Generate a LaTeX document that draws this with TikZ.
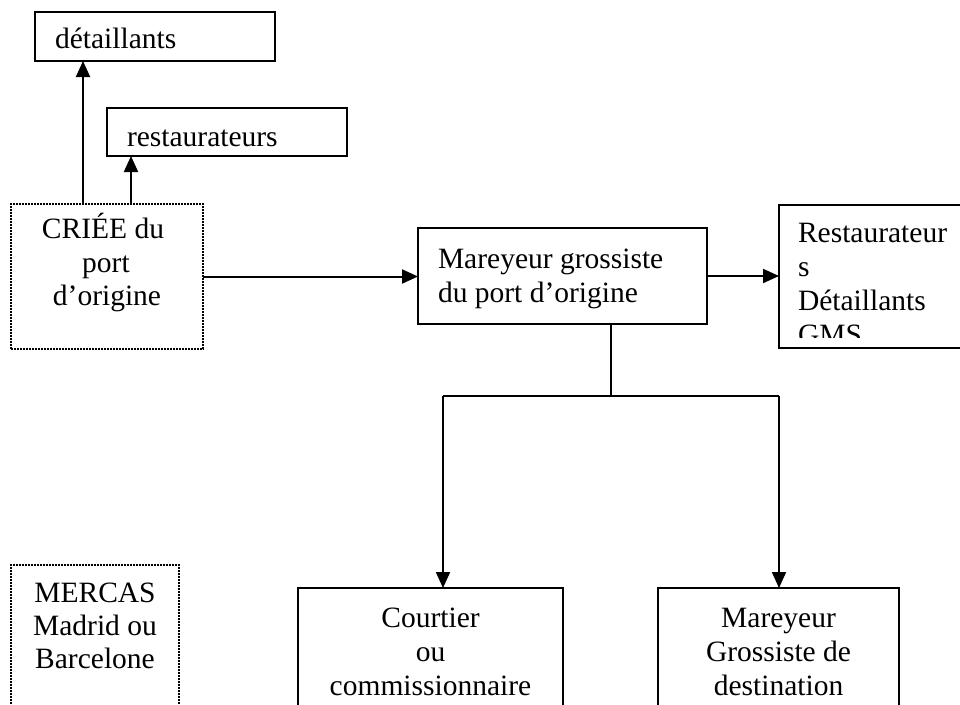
\documentclass[tikz,border=0pt]{standalone}
\usepackage{fontspec}
\setmainfont{Liberation Serif}
\usetikzlibrary{arrows.meta}
\begin{document}
\begin{tikzpicture}[x=1pt,y=-1pt,
  box/.style={draw=black,line width=2pt,minimum width=#1,anchor=north west,inner sep=0pt,outer sep=0pt},
  dotbox/.style={draw=black,line width=1.6pt,dash pattern=on 1.6pt off 1.4pt,minimum width=#1,anchor=north west,inner sep=0pt,outer sep=0pt},
  lbl/.style={inner sep=0pt,outer sep=0pt,font=\fontsize{29.5}{33.5}\selectfont},
  conn/.style={line width=2pt},
  arr/.style={line width=2pt,-{Triangle[length=16pt,width=14pt]}}]
\useasboundingbox (0,0) rectangle (960,704);
\clip (0,0) rectangle (960,704);
% boxes
\node[box=240pt,minimum height=49pt] (det) at (35,12) {};
\node[box=240pt,minimum height=48pt] (rest) at (107,108) {};
\node[dotbox=192pt,minimum height=145pt] (criee) at (11,204) {};
\node[box=289pt,minimum height=96pt] (mar) at (418,228) {};
\node[box=200pt,minimum height=143pt] (rgms) at (779,205) {};
\node[box=265pt,minimum height=140pt] (court) at (298,588) {};
\node[box=241pt,minimum height=140pt] (mdest) at (658,588) {};
\node[dotbox=168pt,minimum height=160pt] (mercas) at (11,565) {};
% texts
\node[lbl,anchor=base west] (tdet) at (55,48) {détaillants};
\node[lbl,anchor=base west] (trest) at (127,146) {restaurateurs};
\node[lbl,anchor=base] (tcr1) at (103,238) {CRIÉE du};
\node[lbl,anchor=base] (tcr2) at (106,272) {port};
\node[lbl,anchor=base] (tcr3) at (107,305) {d’origine};
\node[lbl,anchor=base west] (tmar1) at (438,268) {Mareyeur grossiste};
\node[lbl,anchor=base west] (tmar2) at (438,302) {du port d’origine};
\begin{scope}
\clip (779,205) rectangle (960,337);
\node[lbl,anchor=base west] (tr1) at (798,242) {Restaurateur};
\node[lbl,anchor=base west] (tr2) at (798,276) {s};
\node[lbl,anchor=base west] (tr3) at (798,310) {Détaillants};
\node[lbl,anchor=base west] (tr4) at (798,344) {GMS};
\end{scope}
\node[lbl,anchor=base] (tc1) at (430.5,627) {Courtier};
\node[lbl,anchor=base] (tc2) at (430.5,661) {ou};
\node[lbl,anchor=base] (tc3) at (430.5,695) {commissionnaire};
\node[lbl,anchor=base] (td1) at (778.5,627) {Mareyeur};
\node[lbl,anchor=base] (td2) at (778.5,661) {Grossiste de};
\node[lbl,anchor=base] (td3) at (778.5,695) {destination};
\node[lbl,anchor=base] (tm1) at (95,602) {MERCAS};
\node[lbl,anchor=base] (tm2) at (95,635) {Madrid ou};
\node[lbl,anchor=base] (tm3) at (95,668) {Barcelone};
% connectors
\coordinate (c1) at (83,0);
\coordinate (c2) at (131,0);
\coordinate (j) at (611,396);
\coordinate (jl) at (443,396);
\coordinate (jr) at (779,396);
\draw[arr] (criee.north -| c1) -- (det.south -| c1);
\draw[arr] (criee.north -| c2) -- (rest.south -| c2);
\draw[arr] (criee.east) -- (criee.east -| mar.west);
\draw[arr] (mar.east) -- (mar.east -| rgms.west);
\draw[conn] (mar.south -| j) -- (j);
\draw[conn] (jl) -- (jr);
\draw[arr] (jl) -- (court.north -| jl);
\draw[arr] (jr) -- (mdest.north -| jr);
\end{tikzpicture}
\end{document}
